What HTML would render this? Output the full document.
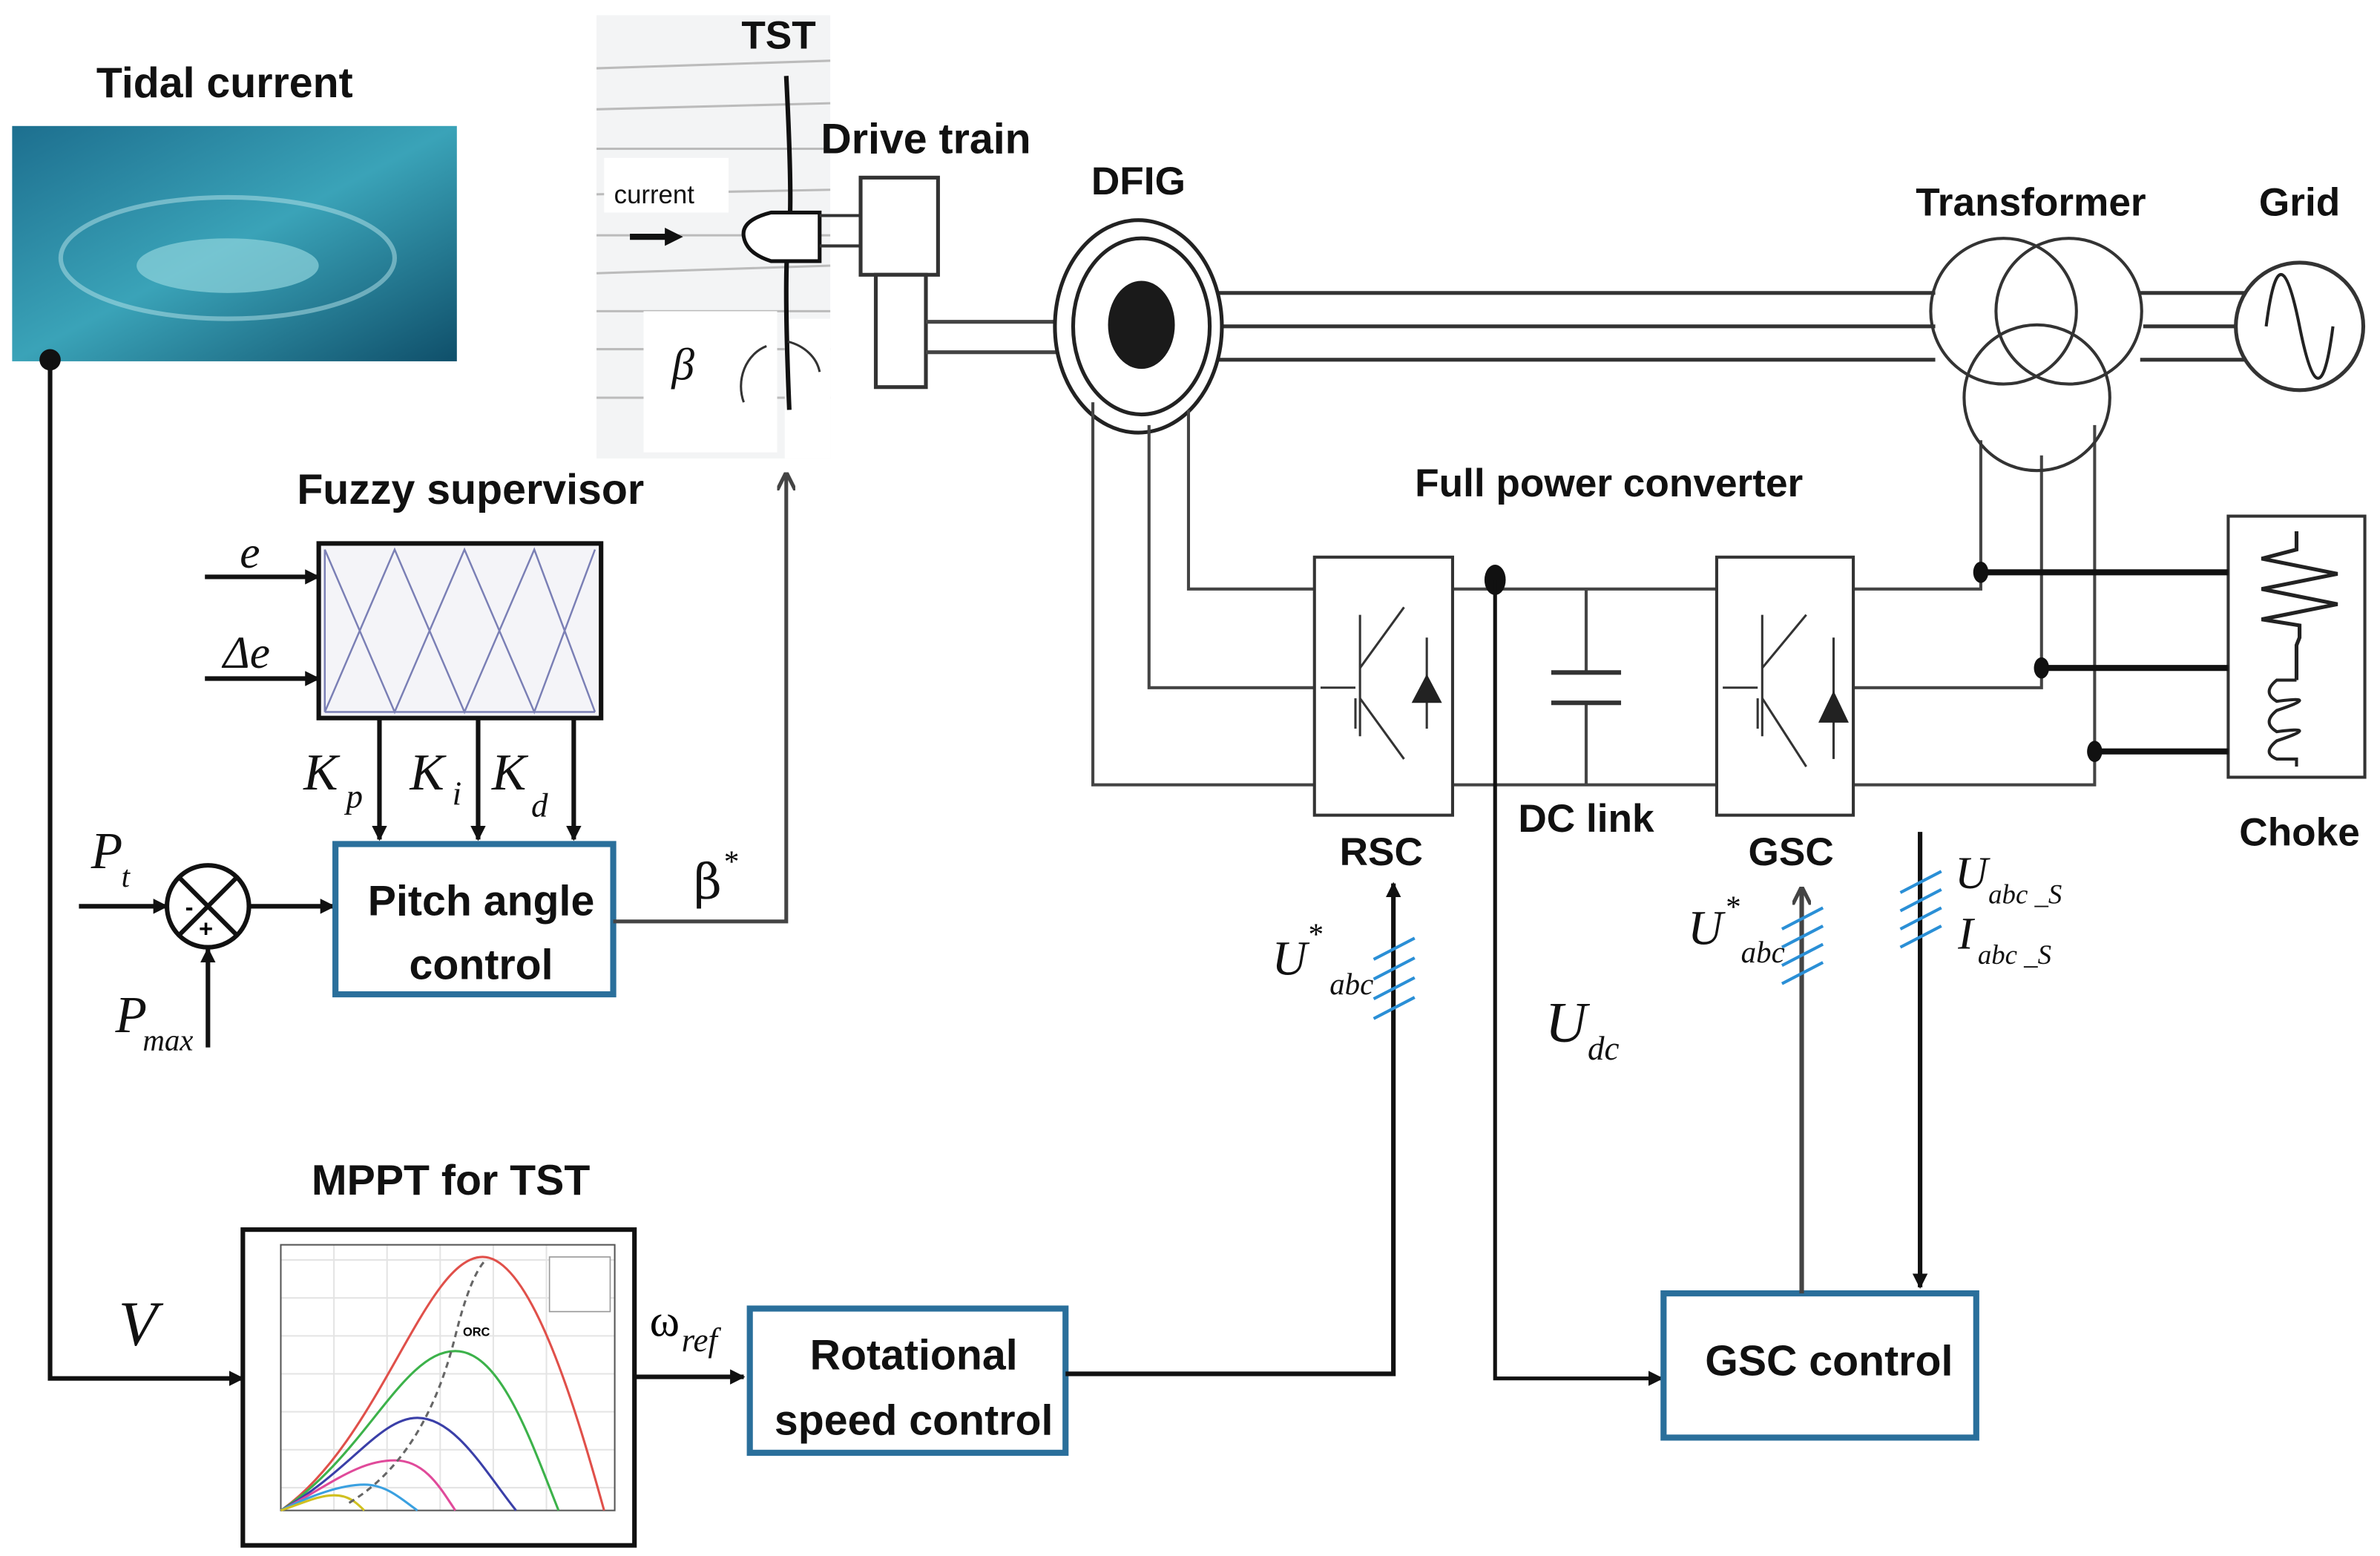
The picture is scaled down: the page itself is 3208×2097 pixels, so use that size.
<!DOCTYPE html>
<html><head><meta charset="utf-8"><style>
html,body{margin:0;padding:0;background:#fff;}
svg{display:block;}
.b{font-family:"Liberation Sans",sans-serif;font-weight:bold;fill:#111;}
.i{font-family:"Liberation Serif",serif;font-style:italic;fill:#111;}
</style></head><body>
<svg width="3208" height="2097" viewBox="0 0 1568 1025" preserveAspectRatio="none" xmlns="http://www.w3.org/2000/svg">
<defs>
<marker id="a" markerWidth="10" markerHeight="10" refX="9" refY="5" orient="auto" markerUnits="userSpaceOnUse"><path d="M0,0 L10,5 L0,10 Z" fill="#111"/></marker>
<marker id="ag" markerWidth="12" markerHeight="12" refX="11" refY="6" orient="auto" markerUnits="userSpaceOnUse"><path d="M0,0 L12,6 L0,12" fill="none" stroke="#444" stroke-width="2.5"/></marker>
<linearGradient id="w" x1="0" y1="0" x2="1" y2="1"><stop offset="0" stop-color="#1d6f8f"/><stop offset="0.5" stop-color="#3aa3b8"/><stop offset="1" stop-color="#0f4f6a"/></linearGradient>
</defs>
<text class="b" x="148" y="64" font-size="28" text-anchor="middle">Tidal current</text>
<rect x="8" y="83" width="293" height="155" fill="url(#w)"/>
<ellipse cx="150" cy="175" rx="60" ry="18" fill="#8fd3dc" opacity="0.7"/>
<ellipse cx="150" cy="170" rx="110" ry="40" fill="none" stroke="#b7e4ea" stroke-width="3" opacity="0.5"/>
<circle cx="33" cy="237" r="7" fill="#111"/>
<polyline points="33,237 33,908 160,908" fill="none" stroke="#111" stroke-width="3" marker-end="url(#a)"/>
<text class="i" x="78" y="886" font-size="42">V</text>
<rect x="393" y="10" width="154" height="292" fill="#f3f4f5"/>
<g stroke="#bbb" stroke-width="1.5">
<line x1="393" y1="45" x2="547" y2="40"/><line x1="393" y1="72" x2="547" y2="68"/><line x1="393" y1="98" x2="547" y2="98"/><line x1="393" y1="128" x2="547" y2="125"/><line x1="393" y1="155" x2="547" y2="155"/><line x1="393" y1="180" x2="547" y2="175"/><line x1="393" y1="205" x2="547" y2="205"/><line x1="393" y1="230" x2="547" y2="230"/><line x1="393" y1="262" x2="547" y2="262"/>
</g>
<rect x="398" y="104" width="82" height="36" fill="#fff"/>
<rect x="424" y="205" width="88" height="93" fill="#fff"/>
<rect x="517" y="210" width="30" height="92" fill="#fff"/>
<text class="b" x="513" y="32" font-size="26" text-anchor="middle">TST</text>
<text x="431" y="134" font-size="17" font-family="Liberation Sans,sans-serif" text-anchor="middle" fill="#111">current</text>
<line x1="415" y1="156" x2="440" y2="156" stroke="#111" stroke-width="4"/><path d="M438,150 L450,156 L438,162Z" fill="#111"/>
<path d="M518,50 Q522,130 520,150 Q516,175 520,270" fill="none" stroke="#111" stroke-width="3"/>
<path d="M508,140 Q488,145 490,156 Q492,167 508,172 L540,172 L540,140 Z" fill="#fff" stroke="#111" stroke-width="2.5"/>
<line x1="540" y1="142" x2="567" y2="142" stroke="#333" stroke-width="2"/><line x1="540" y1="162" x2="567" y2="162" stroke="#333" stroke-width="2"/>
<text class="i" x="450" y="250" font-size="30" text-anchor="middle" font-style="normal" font-family="DejaVu Serif,serif">β</text>
<path d="M505,228 A25,28 0 0,0 490,265" fill="none" stroke="#333" stroke-width="1.5"/><path d="M519,225 A30,25 0 0,1 540,245" fill="none" stroke="#333" stroke-width="1.5"/>
<text class="b" x="610" y="101" font-size="28" text-anchor="middle">Drive train</text>
<rect x="567" y="117" width="51" height="64" fill="#fff" stroke="#333" stroke-width="2.5"/>
<rect x="577" y="181" width="33" height="74" fill="#fff" stroke="#333" stroke-width="2.5"/>
<line x1="610" y1="212" x2="697" y2="212" stroke="#444" stroke-width="2.5"/><line x1="610" y1="232" x2="697" y2="232" stroke="#444" stroke-width="2.5"/>
<text class="b" x="750" y="128" font-size="26" text-anchor="middle">DFIG</text>
<g stroke="#333" stroke-width="2.5" fill="none">
<line x1="800" y1="193" x2="1275" y2="193"/><line x1="805" y1="215" x2="1275" y2="215"/><line x1="800" y1="237" x2="1275" y2="237"/>
<line x1="1410" y1="193" x2="1480" y2="193"/><line x1="1412" y1="215" x2="1475" y2="215"/><line x1="1410" y1="237" x2="1480" y2="237"/>
</g>
<ellipse cx="750" cy="215" rx="55" ry="70" fill="#fff" stroke="#222" stroke-width="2.5"/>
<ellipse cx="752" cy="215" rx="45" ry="58" fill="#fff" stroke="#222" stroke-width="2.5"/>
<ellipse cx="752" cy="214" rx="22" ry="29" fill="#1a1a1a"/>
<g stroke="#444" stroke-width="2" fill="none">
<polyline points="783,270 783,388 866,388"/>
<polyline points="757,280 757,453 866,453"/>
<polyline points="720,265 720,517 866,517"/>
<line x1="957" y1="388" x2="1131" y2="388"/><line x1="957" y1="517" x2="1131" y2="517"/>
<line x1="1045" y1="388" x2="1045" y2="443"/><line x1="1045" y1="463" x2="1045" y2="517"/>
<polyline points="1221,388 1305,388 1305,290"/>
<polyline points="1221,453 1345,453 1345,300"/>
<polyline points="1221,517 1380,517 1380,280"/>
</g>
<line x1="1022" y1="443" x2="1068" y2="443" stroke="#333" stroke-width="3"/><line x1="1022" y1="463" x2="1068" y2="463" stroke="#333" stroke-width="3"/>
<text class="b" x="1060" y="327" font-size="26" text-anchor="middle">Full power converter</text>
<text class="b" x="1338" y="142" font-size="26" text-anchor="middle">Transformer</text>
<g fill="none" stroke="#333" stroke-width="2"><circle cx="1320" cy="205" r="48"/><circle cx="1363" cy="205" r="48"/><circle cx="1342" cy="262" r="48"/></g>
<text class="b" x="1515" y="142" font-size="26" text-anchor="middle">Grid</text>
<circle cx="1515" cy="215" r="42" fill="#fff" stroke="#333" stroke-width="2.5"/>
<path d="M1493,215 C1500,160 1508,180 1515,215 C1522,250 1530,270 1537,215" fill="none" stroke="#222" stroke-width="2"/>
<g fill="#fff" stroke="#333" stroke-width="2">
<rect x="866" y="367" width="91" height="170"/><rect x="1131" y="367" width="90" height="170"/>
</g>
<g stroke="#333" stroke-width="1.5" fill="none">
<line x1="870" y1="453" x2="893" y2="453"/><line x1="893" y1="460" x2="893" y2="480"/><line x1="896" y1="405" x2="896" y2="485"/><line x1="896" y1="440" x2="925" y2="400"/><line x1="896" y1="460" x2="925" y2="500"/><line x1="940" y1="420" x2="940" y2="480"/>
<line x1="1135" y1="453" x2="1158" y2="453"/><line x1="1158" y1="460" x2="1158" y2="480"/><line x1="1161" y1="405" x2="1161" y2="485"/><line x1="1161" y1="440" x2="1190" y2="405"/><line x1="1161" y1="460" x2="1190" y2="505"/><line x1="1208" y1="420" x2="1208" y2="500"/>
</g>
<path d="M930,463 L950,463 L940,444Z" fill="#222"/><path d="M1198,476 L1218,476 L1208,455Z" fill="#222"/>
<text class="b" x="910" y="570" font-size="26" text-anchor="middle">RSC</text>
<text class="b" x="1180" y="570" font-size="26" text-anchor="middle">GSC</text>
<text class="b" x="1045" y="548" font-size="26" text-anchor="middle">DC link</text>
<rect x="1468" y="340" width="90" height="172" fill="#fff" stroke="#333" stroke-width="2"/>
<path d="M1513,350 L1513,362 L1490,368 L1540,378 L1490,388 L1540,398 L1490,408 L1515,412 L1515,420 L1513,425 L1513,448" fill="none" stroke="#222" stroke-width="2.5"/>
<path d="M1513,448 L1500,448 Q1490,456 1500,462 Q1530,458 1500,468 Q1490,476 1500,482 Q1530,478 1500,488 Q1490,496 1500,500 L1513,500 L1513,505" fill="none" stroke="#222" stroke-width="2"/>
<g stroke="#111" stroke-width="4"><line x1="1305" y1="377" x2="1468" y2="377"/><line x1="1345" y1="440" x2="1468" y2="440"/><line x1="1380" y1="495" x2="1468" y2="495"/></g>
<ellipse cx="1305" cy="377" rx="5" ry="7" fill="#111"/><ellipse cx="1345" cy="440" rx="5" ry="7" fill="#111"/><ellipse cx="1380" cy="495" rx="5" ry="7" fill="#111"/>
<text class="b" x="1515" y="557" font-size="26" text-anchor="middle">Choke</text>
<ellipse cx="985" cy="382" rx="7" ry="10" fill="#111"/>
<polyline points="985,382 985,908 1095,908" fill="none" stroke="#111" stroke-width="2.5" marker-end="url(#a)"/>
<text class="i" x="1018" y="686" font-size="38">U</text><text class="i" x="1046" y="698" font-size="22">dc</text>
<text class="b" x="310" y="332" font-size="28" text-anchor="middle">Fuzzy supervisor</text>
<rect x="210" y="358" width="186" height="115" fill="#f4f4f8" stroke="#111" stroke-width="3"/>
<polyline points="214,362 214,469 260,362 306,469 352,362 392,469" fill="none" stroke="#7a7fb5" stroke-width="1.2"/>
<polyline points="214,362 260,469 306,362 352,469 392,362" fill="none" stroke="#7a7fb5" stroke-width="1.2"/>
<line x1="214" y1="469" x2="392" y2="469" stroke="#7a7fb5" stroke-width="1.2"/>
<g stroke="#111" stroke-width="3" fill="none">
<line x1="135" y1="380" x2="210" y2="380" marker-end="url(#a)"/>
<line x1="135" y1="447" x2="210" y2="447" marker-end="url(#a)"/>
<line x1="250" y1="473" x2="250" y2="553" marker-end="url(#a)"/>
<line x1="315" y1="473" x2="315" y2="553" marker-end="url(#a)"/>
<line x1="378" y1="473" x2="378" y2="553" marker-end="url(#a)"/>
<line x1="52" y1="597" x2="110" y2="597" marker-end="url(#a)"/>
<line x1="137" y1="690" x2="137" y2="625" marker-end="url(#a)"/>
<line x1="164" y1="597" x2="220" y2="597" marker-end="url(#a)"/>
</g>
<text class="i" x="158" y="374" font-size="30">e</text>
<text class="i" x="147" y="440" font-size="30" font-style="normal">Δ<tspan font-style="italic">e</tspan></text>
<text class="i" x="200" y="520" font-size="34">K</text><text class="i" x="228" y="532" font-size="22">p</text>
<text class="i" x="270" y="520" font-size="34">K</text><text class="i" x="298" y="530" font-size="22">i</text>
<text class="i" x="324" y="520" font-size="34">K</text><text class="i" x="350" y="538" font-size="22">d</text>
<text class="i" x="60" y="572" font-size="34">P</text><text class="i" x="80" y="584" font-size="20">t</text>
<text class="i" x="76" y="680" font-size="34">P</text><text class="i" x="94" y="692" font-size="20" font-style="normal">max</text>
<circle cx="137" cy="597" r="27" fill="#fff" stroke="#111" stroke-width="3"/>
<line x1="118" y1="578" x2="156" y2="616" stroke="#111" stroke-width="3"/><line x1="156" y1="578" x2="118" y2="616" stroke="#111" stroke-width="3"/>
<text x="122" y="603" font-size="16" font-family="Liberation Sans,sans-serif" font-weight="bold">-</text>
<text x="131" y="617" font-size="16" font-family="Liberation Sans,sans-serif" font-weight="bold">+</text>
<rect x="221" y="556" width="183" height="99" fill="#fff" stroke="#2a6f9b" stroke-width="4"/>
<text class="b" x="317" y="603" font-size="28" text-anchor="middle">Pitch angle</text>
<text class="b" x="317" y="645" font-size="28" text-anchor="middle">control</text>
<polyline points="404,607 518,607 518,312" fill="none" stroke="#444" stroke-width="2.5" marker-end="url(#ag)"/>
<text x="457" y="592" font-size="32" font-family="DejaVu Serif,serif" fill="#111">β</text><text x="477" y="574" font-size="20" font-family="Liberation Serif,serif">*</text>
<text class="b" x="297" y="787" font-size="28" text-anchor="middle">MPPT for TST</text>
<rect x="160" y="810" width="258" height="208" fill="#fff" stroke="#111" stroke-width="3"/>
<g stroke="#e4e4e4" stroke-width="1">
<line x1="185" y1="830" x2="405" y2="830"/><line x1="185" y1="855" x2="405" y2="855"/><line x1="185" y1="880" x2="405" y2="880"/><line x1="185" y1="905" x2="405" y2="905"/><line x1="185" y1="930" x2="405" y2="930"/><line x1="185" y1="955" x2="405" y2="955"/><line x1="185" y1="980" x2="405" y2="980"/>
<line x1="220" y1="820" x2="220" y2="995"/><line x1="255" y1="820" x2="255" y2="995"/><line x1="290" y1="820" x2="290" y2="995"/><line x1="325" y1="820" x2="325" y2="995"/><line x1="360" y1="820" x2="360" y2="995"/>
</g>
<rect x="185" y="820" width="220" height="175" fill="none" stroke="#555" stroke-width="1"/>
<g fill="none" stroke-width="1.5">
<path d="M185,995 C250,950 280,828 318,828 C350,828 380,930 398,995" stroke="#e0504a"/>
<path d="M185,995 C240,960 265,890 300,890 C330,890 350,950 368,995" stroke="#3cb24a"/>
<path d="M185,995 C230,970 250,934 275,934 C300,934 320,970 340,995" stroke="#3a3fa8"/>
<path d="M185,995 C215,980 235,962 260,962 C280,962 290,980 300,995" stroke="#e04a9a"/>
<path d="M185,995 C205,985 225,978 240,978 C255,978 265,988 275,995" stroke="#3aa0e0"/>
<path d="M185,995 C200,990 210,985 220,985 C230,985 235,990 240,995" stroke="#d0c020"/>
<path d="M230,990 Q280,960 300,880 Q310,840 320,830" stroke="#666" stroke-dasharray="4,3"/>
</g>
<text x="305" y="880" font-size="8" font-family="Liberation Sans,sans-serif" font-weight="bold">ORC</text>
<rect x="362" y="828" width="40" height="36" fill="#fff" stroke="#999" stroke-width="0.8"/>
<text x="428" y="880" font-size="30" font-family="Liberation Serif,serif">ω</text><text class="i" x="449" y="890" font-size="22">ref</text>
<line x1="418" y1="907" x2="490" y2="907" stroke="#111" stroke-width="3" marker-end="url(#a)"/>
<rect x="494" y="862" width="208" height="95" fill="#fff" stroke="#2a6f9b" stroke-width="4"/>
<text class="b" x="602" y="902" font-size="28" text-anchor="middle">Rotational</text>
<text class="b" x="602" y="945" font-size="28" text-anchor="middle">speed control</text>
<polyline points="702,905 918,905 918,582" fill="none" stroke="#111" stroke-width="3" marker-end="url(#a)"/>
<g stroke="#2a8fd6" stroke-width="2"><line x1="905" y1="632" x2="932" y2="618"/><line x1="905" y1="645" x2="932" y2="631"/><line x1="905" y1="658" x2="932" y2="644"/><line x1="905" y1="671" x2="932" y2="657"/></g>
<text class="i" x="838" y="642" font-size="32">U</text><text x="862" y="622" font-size="20" font-family="Liberation Serif,serif">*</text><text class="i" x="876" y="655" font-size="20">abc</text>
<rect x="1096" y="852" width="206" height="95" fill="#fff" stroke="#2a6f9b" stroke-width="4"/>
<text class="b" x="1205" y="906" font-size="28" text-anchor="middle">GSC control</text>
<line x1="1187" y1="852" x2="1187" y2="585" stroke="#444" stroke-width="3" marker-end="url(#ag)"/>
<g stroke="#2a8fd6" stroke-width="2"><line x1="1174" y1="612" x2="1201" y2="598"/><line x1="1174" y1="624" x2="1201" y2="610"/><line x1="1174" y1="636" x2="1201" y2="622"/><line x1="1174" y1="648" x2="1201" y2="634"/></g>
<text class="i" x="1112" y="622" font-size="32">U</text><text x="1137" y="604" font-size="20" font-family="Liberation Serif,serif">*</text><text class="i" x="1147" y="634" font-size="20">abc</text>
<line x1="1265" y1="548" x2="1265" y2="848" stroke="#111" stroke-width="3" marker-end="url(#a)"/>
<g stroke="#2a8fd6" stroke-width="2"><line x1="1252" y1="588" x2="1279" y2="574"/><line x1="1252" y1="600" x2="1279" y2="586"/><line x1="1252" y1="612" x2="1279" y2="598"/><line x1="1252" y1="624" x2="1279" y2="610"/></g>
<text class="i" x="1288" y="585" font-size="30">U</text><text class="i" x="1310" y="595" font-size="18">abc _S</text>
<text class="i" x="1290" y="625" font-size="30">I</text><text class="i" x="1303" y="635" font-size="18">abc _S</text>
</svg>
</body></html>
